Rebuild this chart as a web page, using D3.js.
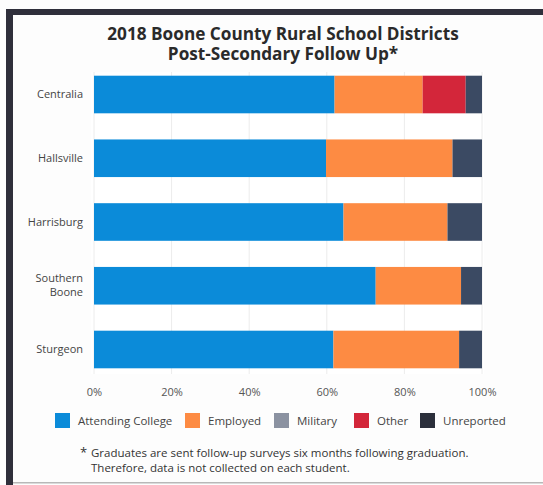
<!DOCTYPE html>
<html>
<head>
<meta charset="utf-8">
<script src="https://cdn.jsdelivr.net/npm/d3@7"></script>
<style>
  html, body { margin: 0; padding: 0; background: #fdfdfd; }
  svg { display: block; font-family: "Open Sans", "Noto Sans", sans-serif; }
</style>
</head>
<body>
<svg id="chart" width="543" height="485"></svg>
<script>
// Post-secondary outcomes (% of graduates) by district
const districts = ["Centralia", "Hallsville", "Harrisburg", "Southern Boone", "Sturgeon"];
const seriesNames = ["Attending College", "Employed", "Military", "Other", "Unreported"];
const attendingCollege = [62.0, 59.8, 64.3, 72.6, 61.7];
const employed        = [22.7, 32.6, 26.8, 22.0, 32.4];
const military        = [0, 0, 0, 0, 0];
const other           = [11.1, 0, 0, 0, 0];
const unreported      = [4.2, 7.6, 8.9, 5.4, 5.9];
const tickLabels = ["0%", "20%", "40%", "60%", "80%", "100%"];
const colors = ["#0b8bd9", "#fd8b43", "#8b92a1", "#d3263a", "#3b4a63"];
const legendColors = ["#0b8bd9", "#fd8b43", "#8b92a1", "#d3263a", "#2b2f3b"];

const rows = districts.map((d, i) => ({
  district: d,
  "Attending College": attendingCollege[i],
  "Employed": employed[i],
  "Military": military[i],
  "Other": other[i],
  "Unreported": unreported[i]
}));

const svg = d3.select("#chart");

// outer frame
svg.append("rect").attr("x", 6).attr("y", 9).attr("width", 537).attr("height", 6).attr("fill", "#2f2f3b");
svg.append("rect").attr("x", 6).attr("y", 9).attr("width", 7).attr("height", 476).attr("fill", "#2f2f3b");
svg.append("rect").attr("x", 13).attr("y", 482).attr("width", 530).attr("height", 1.5).attr("fill", "#b8b8b8");

// title
const title = svg.append("text").attr("text-anchor", "middle").attr("fill", "#2a2a2a")
  .attr("font-weight", "bold").attr("font-size", 17.2);
title.append("tspan").attr("x", 283).attr("y", 40).text("2018 Boone County Rural School Districts");
title.append("tspan").attr("x", 283).attr("y", 60).text("Post-Secondary Follow Up*");

const x = d3.scaleLinear().domain([0, 100]).range([94, 482]);
const y = d3.scaleBand().domain(districts).range([72, 372]).paddingInner(0.41).paddingOuter(0.058);

// plot background and gridlines
svg.append("rect").attr("x", 91).attr("y", 72).attr("width", 393).attr("height", 302).attr("fill", "#ffffff");
svg.append("g").selectAll("line").data(d3.range(0, 101, 20)).join("line")
  .attr("x1", d => x(d)).attr("x2", d => x(d))
  .attr("y1", 72).attr("y2", 374)
  .attr("stroke", "#ececec").attr("stroke-width", 1);

const stack = d3.stack().keys(seriesNames)(rows);
const colorScale = d3.scaleOrdinal().domain(seriesNames).range(colors);

svg.append("g").selectAll("g").data(stack).join("g")
  .attr("fill", d => colorScale(d.key))
  .selectAll("rect").data(d => d).join("rect")
  .attr("x", d => x(d[0]))
  .attr("y", d => y(d.data.district))
  .attr("width", d => x(d[1]) - x(d[0]))
  .attr("height", y.bandwidth());

// x axis labels
const xAxis = d3.axisBottom(x).tickValues(d3.range(0, 101, 20))
  .tickFormat((d, i) => tickLabels[i]).tickSize(0).tickPadding(0);
const xg = svg.append("g").attr("transform", "translate(0,388)").call(xAxis);
xg.select(".domain").remove();
xg.selectAll("text").attr("font-size", 11).attr("fill", "#555").attr("font-family", "'Open Sans', sans-serif");

// y axis labels
const yAxis = d3.axisLeft(y).tickSize(0).tickPadding(0);
const yg = svg.append("g").attr("transform", "translate(83,0)").call(yAxis);
yg.select(".domain").remove();
yg.selectAll("text").attr("font-size", 11).attr("fill", "#444").attr("font-family", "'Open Sans', sans-serif")
  .each(function(d) {
    const words = d.split(" ");
    if (words.length > 1) {
      const t = d3.select(this).text(null);
      words.forEach((w, k) => {
        t.append("tspan").attr("x", 0).attr("dy", k === 0 ? "-0.35em" : "1.25em").text(w);
      });
    }
  });

// legend
const legendX = [55, 185, 274, 354, 420];
const lg = svg.append("g").selectAll("g").data(seriesNames).join("g")
  .attr("transform", (d, i) => `translate(${legendX[i]},413)`);
lg.append("rect").attr("width", 15).attr("height", 15).attr("fill", (d, i) => legendColors[i]);
lg.append("text").attr("x", 23).attr("y", 12).attr("font-size", 11.5).attr("fill", "#444").text(d => d);

// footnote
const note = svg.append("g").attr("fill", "#333").attr("font-size", 11.5);
note.append("text").attr("x", 80).attr("y", 457).attr("font-size", 13).text("*");
note.append("text").attr("x", 91).attr("y", 457).text("Graduates are sent follow-up surveys six months following graduation.");
note.append("text").attr("x", 91).attr("y", 471.5).text("Therefore, data is not collected on each student.");
</script>
</body>
</html>
